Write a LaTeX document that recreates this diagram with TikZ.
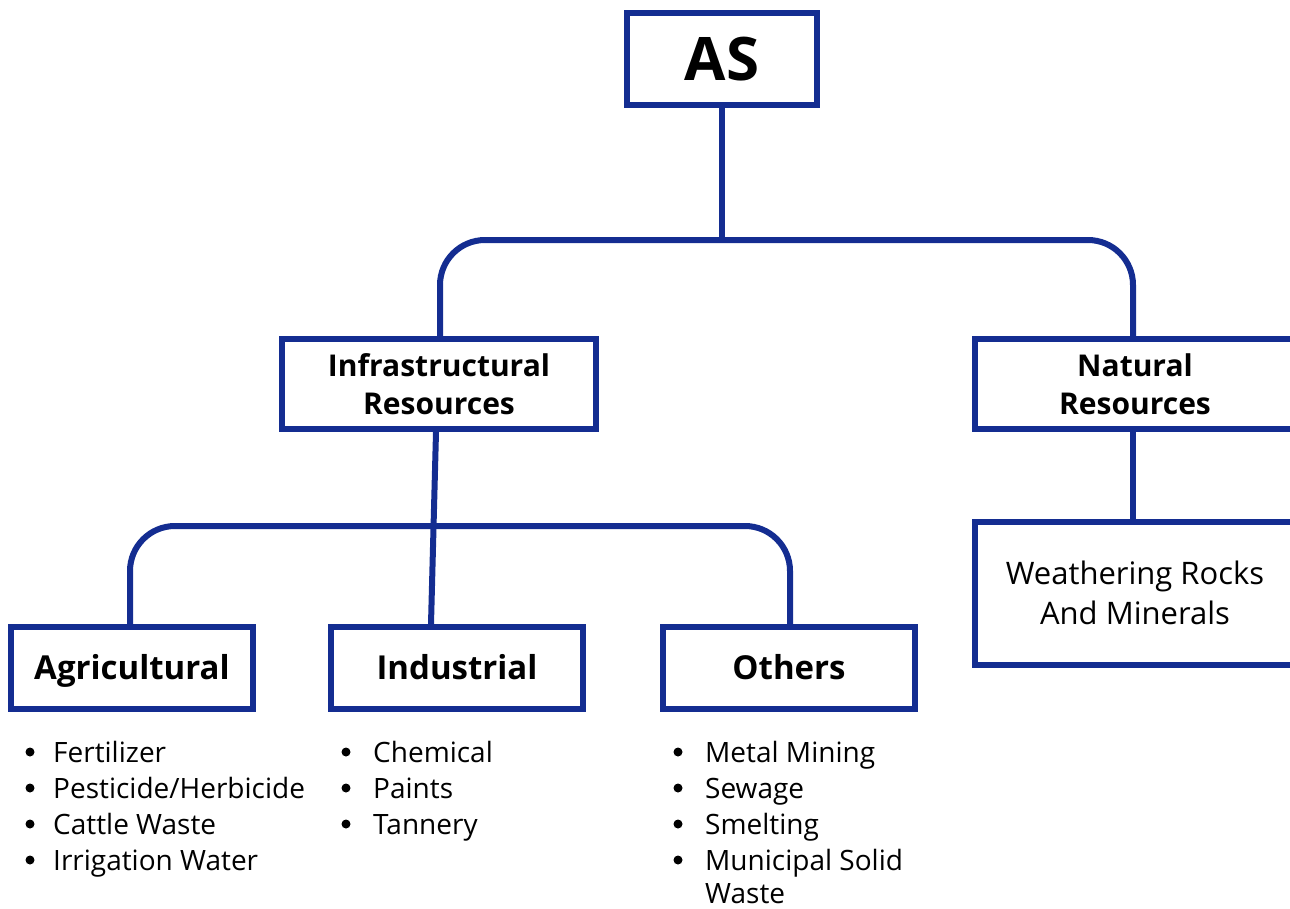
\documentclass[tikz,border=0pt]{standalone}
\usepackage{fontspec}
\setmainfont{Open Sans}
\definecolor{navy}{RGB}{20,45,145}
\begin{document}
\begin{tikzpicture}[x=1pt,y=-1pt,
  box/.style={draw=navy,line width=6pt,fill=white,rectangle,inner sep=0pt,align=center,text=black},
  catbox/.style={box,minimum height=82pt,text height=23pt,text depth=0pt,font=\fontsize{33}{40}\selectfont\bfseries},
  conn/.style={draw=navy,line width=6pt},
  bracket/.style={conn,rounded corners=45pt},
  item/.style={anchor=base west,inner sep=0pt,font=\fontsize{28}{36}\selectfont},
  bul/.style={circle,fill=black,inner sep=0pt,minimum size=9pt}]
\useasboundingbox (0,0) rectangle (1290,908);
% boxes
\node[box,minimum width=190pt,minimum height=92pt,font=\fontsize{60}{70}\selectfont\bfseries] (as) at (722,59) {AS};
\node[box,minimum width=314pt,minimum height=90pt,font=\fontsize{30}{38}\selectfont\bfseries] (infra) at (439,384) {Infrastructural\\Resources};
\node[box,minimum width=320pt,minimum height=90pt,font=\fontsize{30}{38}\selectfont\bfseries] (nat) at (1135,384) {Natural\\Resources};
\node[box,minimum width=320pt,minimum height=143pt,font=\fontsize{31}{40}\selectfont] (wea) at (1135,593) {Weathering Rocks\\And Minerals};
\node[catbox,minimum width=242pt] (agri) at (132,668) {Agricultural};
\node[catbox,minimum width=252pt] (ind) at (457,668) {Industrial};
\node[catbox,minimum width=252pt] (oth) at (789,668) {Others};
% connectors
\coordinate (j1) at (722,240);
\coordinate (j2) at (434,526);
\draw[conn] (as.south) -- (j1);
\draw[bracket] ([xshift=1pt]infra.north) |- (j1) -| ([xshift=-2pt]nat.north);
\draw[conn] ([xshift=-2pt]nat.south) -- ([xshift=-2pt,yshift=-1.5pt]wea.north);
\draw[conn] ([xshift=-3pt]infra.south) -- ([xshift=-26pt]ind.north);
\draw[bracket] ([xshift=-2pt]agri.north) |- (j2) -| ([xshift=1pt]oth.north);
% bullet lists
\foreach \t [count=\i] in {Fertilizer,Pesticide/Herbicide,Cattle Waste,Irrigation Water}{
  \node[bul] (ab\i) at (30,{752+36*(\i-1)}) {};
  \node[item] (a\i) at (53,{762+36*(\i-1)}) {\t};
}
\foreach \t [count=\i] in {Chemical,Paints,Tannery}{
  \node[bul] (ib\i) at (346,{752+36*(\i-1)}) {};
  \node[item] (i\i) at (373,{762+36*(\i-1)}) {\t};
}
\foreach \t [count=\i] in {Metal Mining,Sewage,Smelting,Municipal Solid}{
  \node[bul] (ob\i) at (678,{752+36*(\i-1)}) {};
  \node[item] (o\i) at (705,{762+36*(\i-1)}) {\t};
}
\node[item] (o5) at (705,903) {Waste};
\end{tikzpicture}
\end{document}
